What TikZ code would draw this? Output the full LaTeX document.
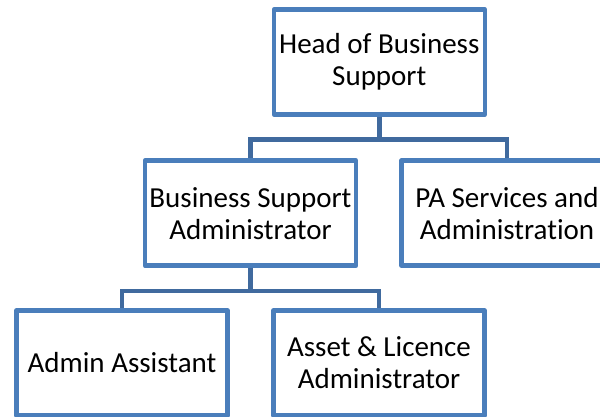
\documentclass[tikz,border=0pt]{standalone}
\usepackage{fontspec}
\setmainfont{Carlito}[Ligatures={NoCommon,NoRare,NoDiscretionary}]
\definecolor{boxline}{RGB}{74,126,187}
\definecolor{connline}{RGB}{64,106,158}
\begin{document}
\begin{tikzpicture}[x=1pt,y=-1pt,
  orgbox/.style={draw=boxline,line width=4.5pt,line join=round,fill=white,
    minimum width=211pt,minimum height=105pt,inner sep=0pt,align=center,
    font=\fontsize{29}{32}\selectfont},
  conn/.style={draw=connline,line width=4.5pt}]
\useasboundingbox (0,0) rectangle (600,417);
\node[orgbox] (head) at (379.3,62) {Head of Business\\Support};
\node[orgbox] (bsa) at (250.5,213.2) {Business Support\\Administrator};
\node[orgbox] (pa) at (507,213.2) {PA Services and\\Administration};
\node[orgbox] (aa) at (122,363) {Admin Assistant};
\node[orgbox] (asset) at (379,363) {Asset \& Licence\\Administrator};
\draw[conn] (head.south) -- ++(0,23) -| (bsa.north);
\draw[conn] (head.south) -- ++(0,23) -| (pa.north);
\draw[conn] (bsa.south) -- ++(0,23) -| (aa.north);
\draw[conn] (bsa.south) -- ++(0,23) -| (asset.north);
\end{tikzpicture}
\end{document}
